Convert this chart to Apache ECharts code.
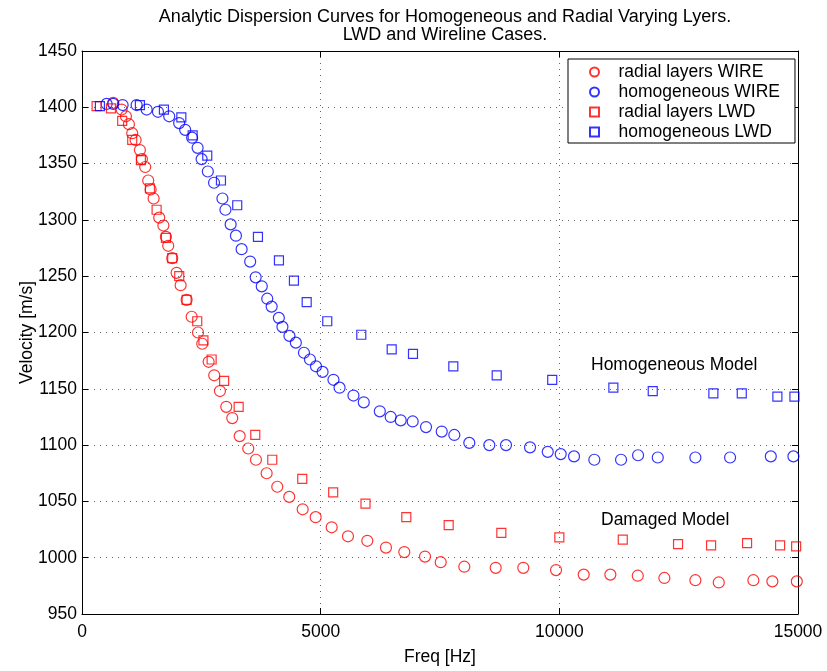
<!DOCTYPE html>
<html>
<head>
<meta charset="utf-8">
<script src="https://cdn.jsdelivr.net/npm/echarts@6/dist/echarts.min.js"></script>
<style>
  html, body { margin: 0; padding: 0; background: #fff; }
  #chart { width: 827px; height: 671px; }
</style>
</head>
<body>
<div id="chart"></div>
<script>
// Dispersion curves: [frequency Hz, velocity m/s]
const radialWire = [
  [654,1404],[830,1398],[920,1392],[983,1385],[1052,1377],[1123,1371],[1213,1362],[1255,1354],
  [1324,1347],[1387,1335],[1438,1327],[1500,1319],[1618,1302],[1705,1295],[1758,1285],[1806,1277],
  [1890,1266],[1982,1253],[2066,1242],[2192,1229],[2297,1214],[2430,1200],[2519,1190],[2653,1174],
  [2770,1162],[2890,1148],[3022,1134],[3148,1124],[3303,1108],[3483,1097],[3644,1087],[3868,1075],
  [4091,1063],[4342,1054],[4623,1043],[4895,1036],[5231,1027],[5572,1019],[5977,1015],[6368,1009],
  [6752,1005],[7186,1001],[7515,996],[8009,992],[8667,991],[9245,991],[9931,989],[10511,985],
  [11069,985],[11643,984],[12200,982],[12850,980],[13340,978],[14065,980],[14463,979],[14975,979]
];
const homogeneousWire = [
  [516,1403],[654,1403],[851,1402],[1144,1402],[1354,1398],[1591,1396],[1827,1392],[2035,1386],
  [2161,1380],[2307,1373],[2422,1364],[2506,1354],[2636,1343],[2766,1333],[2942,1319],[3005,1309],
  [3114,1296],[3225,1286],[3344,1274],[3523,1263],[3638,1249],[3766,1241],[3881,1230],[3973,1223],
  [4124,1213],[4199,1205],[4346,1197],[4480,1191],[4650,1182],[4776,1176],[4902,1170],[5040,1165],
  [5268,1158],[5396,1151],[5687,1144],[5903,1138],[6239,1130],[6467,1125],[6677,1122],[6928,1121],
  [7207,1116],[7536,1112],[7800,1109],[8114,1102],[8533,1100],[8883,1100],[9386,1098],[9757,1094],
  [10029,1092],[10308,1090],[10733,1087],[11293,1087],[11649,1091],[12062,1089],[12850,1089],
  [13577,1089],[14430,1090],[14904,1090]
];
const radialLwd = [
  [306,1401],[606,1399],[842,1388],[1052,1371],[1234,1353],[1423,1328],[1563,1309],[1758,1284],
  [1890,1266],[2037,1250],[2192,1229],[2414,1210],[2544,1193],[2716,1176],[2978,1157],[3282,1134],
  [3630,1109],[3986,1087],[4614,1070],[5262,1058],[5939,1048],[6794,1036],[7682,1029],[8785,1022],
  [10000,1018],[11329,1016],[12487,1012],[13179,1011],[13933,1013],[14625,1011],[14961,1010]
];
const homogeneousLwd = [
  [375,1401],[1213,1402],[1716,1398],[2081,1391],[2318,1375],[2624,1357],[2911,1335],[3252,1313],
  [3686,1285],[4126,1264],[4440,1246],[4707,1227],[5138,1210],[5851,1198],[6488,1185],[6934,1181],
  [7779,1170],[8688,1162],[9851,1158],[11132,1151],[11957,1148],[13227,1146],[13822,1146],
  [14568,1143],[14925,1143]
];

const xTicks = { min: 0, max: 15000, step: 5000 };
const yTicks = { min: 950, max: 1450, step: 50 };

const FONT = 'Liberation Sans, Arial, Helvetica, sans-serif';
const FS = 17.5;
const RED = '#ff0000';
const BLUE = '#0000ff';
const SQUARE = 'path://M0,0L10,0L10,10L0,10Z';

const chart = echarts.init(document.getElementById('chart'), null, { renderer: 'canvas' });

const gridLine = { show: true, lineStyle: { color: '#666', type: [1, 5], width: 1 } };
const frameLine = { show: true, onZero: false, lineStyle: { color: '#000', width: 1 } };
const inTick = { show: true, inside: true, length: 6, lineStyle: { color: '#000' } };
const plain = v => String(v);

function scatter(name, data, symbol, size, color) {
  return {
    name, type: 'scatter', data, symbol, symbolSize: size,
    xAxisIndex: 0, yAxisIndex: 0,
    itemStyle: { color: 'transparent', borderColor: color, borderWidth: 1.2 },
    emphasis: { disabled: true },
    animation: false
  };
}

chart.setOption({
  backgroundColor: '#fff',
  animation: false,
  textStyle: { fontFamily: FONT },
  title: {
    text: 'Analytic Dispersion Curves for Homogeneous and Radial Varying Lyers.\nLWD and Wireline Cases.',
    left: 440, top: 3, textAlign: 'center',
    textStyle: { fontFamily: FONT, fontSize: 18, fontWeight: 'normal', color: '#000', lineHeight: 18 }
  },
  grid: { left: 82, right: 29, top: 51, bottom: 56, containLabel: false },
  legend: {
    orient: 'vertical', left: 568, top: 59,
    padding: [4, 15, 2, 21],
    itemWidth: 38, itemHeight: 9, itemGap: 2,
    backgroundColor: '#fff', borderColor: '#000', borderWidth: 1,
    textStyle: { fontFamily: FONT, fontSize: FS, color: '#000', lineHeight: 17.5 },
    selectedMode: false,
    data: [
      { name: 'radial layers WIRE', icon: 'circle' },
      { name: 'homogeneous WIRE', icon: 'circle' },
      { name: 'radial layers LWD', icon: SQUARE },
      { name: 'homogeneous LWD', icon: SQUARE }
    ]
  },
  xAxis: [
    {
      type: 'value', position: 'bottom', min: xTicks.min, max: xTicks.max, interval: xTicks.step,
      name: 'Freq [Hz]', nameLocation: 'middle', nameGap: 34, nameMoveOverlap: false,
      nameTextStyle: { fontFamily: FONT, fontSize: FS, color: '#000' },
      axisLine: frameLine, axisTick: inTick,
      axisLabel: { fontFamily: FONT, fontSize: FS, color: '#000', margin: 9, formatter: plain },
      splitLine: gridLine
    },
    {
      type: 'value', position: 'top', min: xTicks.min, max: xTicks.max, interval: xTicks.step,
      axisLine: frameLine, axisTick: inTick, axisLabel: { show: false }, splitLine: { show: false }
    }
  ],
  yAxis: [
    {
      type: 'value', position: 'left', min: yTicks.min, max: yTicks.max, interval: yTicks.step,
      name: 'Velocity [m/s]', nameLocation: 'middle', nameGap: 46, nameMoveOverlap: false,
      nameTextStyle: { fontFamily: FONT, fontSize: FS, color: '#000' },
      axisLine: frameLine, axisTick: inTick,
      axisLabel: { fontFamily: FONT, fontSize: FS, color: '#000', margin: 5, formatter: plain },
      splitLine: gridLine
    },
    {
      type: 'value', position: 'right', min: yTicks.min, max: yTicks.max, interval: yTicks.step,
      axisLine: frameLine, axisTick: inTick, axisLabel: { show: false }, splitLine: { show: false }
    }
  ],
  graphic: [
    { type: 'text', left: 591, top: 356,
      style: { text: 'Homogeneous Model', font: FS + 'px ' + FONT, fill: '#000' } },
    { type: 'text', left: 601, top: 511,
      style: { text: 'Damaged Model', font: FS + 'px ' + FONT, fill: '#000' } }
  ],
  series: [
    scatter('radial layers WIRE', radialWire, 'circle', 11, RED),
    scatter('homogeneous WIRE', homogeneousWire, 'circle', 11, BLUE),
    scatter('radial layers LWD', radialLwd, 'rect', 9, RED),
    scatter('homogeneous LWD', homogeneousLwd, 'rect', 9, BLUE)
  ]
});
</script>
</body>
</html>
